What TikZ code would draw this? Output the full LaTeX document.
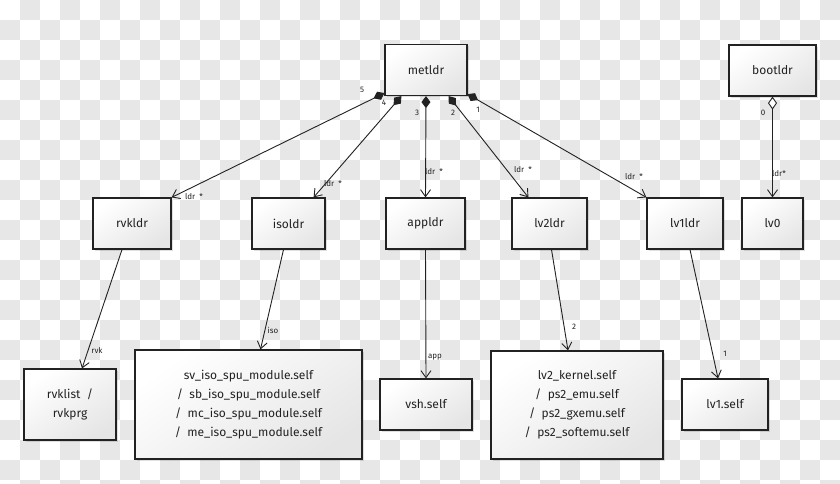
\documentclass[tikz,border=0pt]{standalone}
\usepackage{fontspec}
\setmainfont{Fira Sans}
\usetikzlibrary{arrows.meta,shadows,calc}
\definecolor{ink}{HTML}{222222}
\definecolor{cbgray}{HTML}{E7E7E7}
\tikzset{
  umlbox/.style={draw=ink, line width=1.2pt, inner sep=0pt, align=center,
    font=\fontsize{12}{19}\selectfont, text=ink,
    top color=white, bottom color=black!10, shading angle=35,
    drop shadow={shadow xshift=2pt, shadow yshift=-2pt, opacity=0.12, fill=black}},
  conn/.style={draw=ink, line width=0.9pt},
  comp/.style={conn, {Diamond[length=12pt,width=9pt]}-{Straight Barb[length=7pt,width=10pt]}},
  aggr/.style={conn, {Diamond[open,length=13pt,width=9pt,fill=white]}-{Straight Barb[length=7pt,width=10pt]}},
  dep/.style={conn, -{Straight Barb[length=7pt,width=10pt]}},
  lbl/.style={font=\fontsize{8}{9}\selectfont, text=ink, inner sep=0pt}
}
\begin{document}
\begin{tikzpicture}[x=1pt,y=-1pt]
\useasboundingbox (0,0) rectangle (840,484);
\fill[white] (0,0) rectangle (840,484);
\foreach \i in {0,2,...,40}{
  \foreach \j in {0,2,...,24}{
    \fill[cbgray] (\i*20+20,\j*20) rectangle ++(20,20);
    \fill[cbgray] (\i*20,\j*20+20) rectangle ++(20,20);
  }
}
% nodes
\node[umlbox, minimum width=82pt, minimum height=51pt] (metldr) at (426,70) {metldr};
\node[umlbox, minimum width=87pt, minimum height=51pt] (bootldr) at (772.5,70.5) {bootldr};
\node[umlbox, minimum width=78pt, minimum height=51pt] (rvkldr) at (132,223.5) {rvkldr};
\node[umlbox, minimum width=73pt, minimum height=51pt] (isoldr) at (288.5,223.5) {isoldr};
\node[umlbox, minimum width=79pt, minimum height=51pt] (appldr) at (425.5,223.5) {appldr};
\node[umlbox, minimum width=75pt, minimum height=51pt] (lvtwoldr) at (549.5,223.5) {lv2ldr};
\node[umlbox, minimum width=76pt, minimum height=51pt] (lvoneldr) at (685,223.5) {lv1ldr};
\node[umlbox, minimum width=61pt, minimum height=51pt] (lvzero) at (772.5,223.5) {lv0};
\node[umlbox, minimum width=92pt, minimum height=71pt] (rvklist) at (70,404.5) {rvklist~~/\\rvkprg};
\node[umlbox, minimum width=227pt, minimum height=109pt] (isobox) at (248.5,404.5)
  {sv\_iso\_spu\_module.self\\/~~sb\_iso\_spu\_module.self\\/~~mc\_iso\_spu\_module.self\\/~~me\_iso\_spu\_module.self};
\node[umlbox, minimum width=92pt, minimum height=51pt] (vsh) at (426,404.5) {vsh.self};
\node[umlbox, minimum width=172pt, minimum height=108pt] (lvtwobox) at (577,405)
  {lv2\_kernel.self\\/~~ps2\_emu.self\\/~~ps2\_gxemu.self\\/~~ps2\_softemu.self};
\node[umlbox, minimum width=86pt, minimum height=51pt] (lvoneself) at (725,404.5) {lv1.self};
% compositions from metldr
\draw[comp] ([yshift=3pt]metldr.south west) -- (rvkldr.north east);
\draw[comp] ([xshift=17pt]metldr.south west) -- ([xshift=-12pt]isoldr.north east);
\draw[comp] (metldr.south) -- (appldr.north);
\draw[comp] ([xshift=-19pt]metldr.south east) -- ([xshift=17pt]lvtwoldr.north west);
\draw[comp] ([yshift=2pt]metldr.south east) -- (lvoneldr.north west);
\draw[aggr] (bootldr.south) -- (lvzero.north);
% dependencies
\draw[dep] ([xshift=-10pt]rvkldr.south) -- ([xshift=12pt]rvklist.north);
\draw[dep] ([xshift=-5pt]isoldr.south) -- ([xshift=12pt]isobox.north);
\draw[dep] (appldr.south) -- (vsh.north);
\draw[dep] ([xshift=2pt]lvtwoldr.south) -- ([xshift=-9pt]lvtwobox.north);
\draw[dep] ([xshift=5pt]lvoneldr.south) -- ([xshift=-7pt]lvoneself.north);
% multiplicity labels
\node[lbl] (m5) at (362,90) {5};
\node[lbl] (m4) at (384,103) {4};
\node[lbl] (m3) at (417,113) {3};
\node[lbl] (m2) at (453,113) {2};
\node[lbl] (m1) at (478,110) {1};
\node[lbl] (m0) at (763,113) {0};
\node[lbl] (r5) at (194,197) {ldr~~*};
\node[lbl] (r4) at (333,184) {ldr~~*};
\node[lbl] (r3) at (434,172) {ldr~~*};
\node[lbl] (r2) at (523,170) {ldr~~*};
\node[lbl] (r1) at (634,177) {ldr~~*};
\node[lbl] (r0) at (779,174) {ldr*};
\node[lbl] (dr) at (97,350) {rvk};
\node[lbl] (di) at (273,330) {iso};
\node[lbl] (da) at (435,357) {app};
\node[lbl] (d2) at (574,327) {2};
\node[lbl] (d1) at (725,354) {1};
\end{tikzpicture}
\end{document}
